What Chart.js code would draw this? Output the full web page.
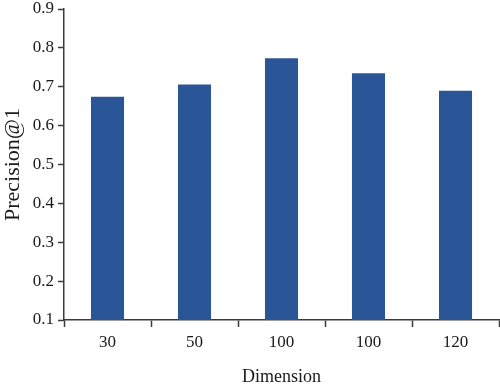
<!DOCTYPE html>
<html>
<head>
<meta charset="utf-8">
<script src="https://cdn.jsdelivr.net/npm/chart.js@4"></script>
<style>
    html, body { margin: 0; padding: 0; background: #fff; }
    #wrap { width: 500px; height: 388px; }
</style>
</head>
<body>
<div id="wrap"><canvas id="chart" width="500" height="388"></canvas></div>
<script>
const dimensions = ['30', '50', '100', '100', '120'];
const precisionAt1 = [0.674, 0.706, 0.773, 0.735, 0.690];
const yMin = 0.1;
const yMax = 0.9;
const yStep = 0.1;

const axisColor = '#3a3a3a';
const textColor = '#1a1a1a';
const fontFamily = "'Liberation Serif', 'DejaVu Serif', serif";

const ctx = document.getElementById('chart').getContext('2d');
const chart = new Chart(ctx, {
    type: 'bar',
    data: {
        labels: dimensions,
        datasets: [{
            label: 'Precision@1',
            data: precisionAt1,
            backgroundColor: '#2A5697',
            borderColor: '#2A5697',
            borderWidth: 0,
            barPercentage: 0.38,
            categoryPercentage: 1.0
        }]
    },
    options: {
        responsive: false,
        animation: false,
        devicePixelRatio: 1,
        layout: {
            padding: { top: 9, right: 1, left: 0, bottom: 0 }
        },
        plugins: {
            legend: { display: false },
            tooltip: { enabled: false }
        },
        scales: {
            x: {
                grid: {
                    offset: true,
                    drawOnChartArea: false,
                    drawTicks: true,
                    tickLength: 7,
                    tickColor: axisColor,
                    tickWidth: 1.5
                },
                border: { display: true, color: axisColor, width: 1.5 },
                ticks: {
                    color: textColor,
                    padding: 5,
                    font: { family: fontFamily, size: 17 }
                },
                title: {
                    display: true,
                    text: 'Dimension',
                    color: textColor,
                    padding: { top: 12, bottom: 0 },
                    font: { family: fontFamily, size: 18 }
                },
                afterFit: (scale) => {
                    scale.height = 68;
                    scale.paddingLeft = 0;
                    scale.paddingRight = 0;
                }
            },
            y: {
                min: yMin,
                max: yMax,
                grid: {
                    drawOnChartArea: false,
                    drawTicks: true,
                    tickLength: 6,
                    tickColor: axisColor,
                    tickWidth: 1.5
                },
                border: { display: true, color: axisColor, width: 1.5 },
                ticks: {
                    stepSize: yStep,
                    color: textColor,
                    padding: 4,
                    font: { family: fontFamily, size: 17 },
                    callback: (v) => Number(v).toFixed(1)
                },
                title: {
                    display: true,
                    text: 'Precision@1',
                    color: textColor,
                    padding: { top: 0, bottom: 2 },
                    font: { family: fontFamily, size: 22 }
                },
                afterFit: (scale) => {
                    scale.width = 64;
                    // let the top label hang into the padding, as in the original
                    scale.paddingTop = 0;
                    scale.paddingBottom = 0;
                }
            }
        }
    }
});
</script>
</body>
</html>
